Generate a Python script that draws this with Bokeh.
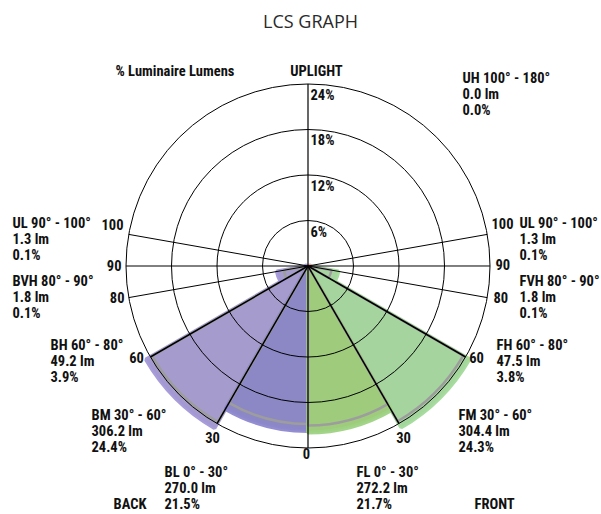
import numpy as np
from bokeh.plotting import figure
from bokeh.models import Range1d
from bokeh.core.properties import value
from bokeh.embed import file_html
from bokeh.resources import INLINE

# ---------------- data ----------------
back_zones = ["BL", "BM", "BH", "BVH"]
back_lm = [270.0, 306.2, 49.2, 1.8]
back_pct = [21.5, 24.4, 3.9, 0.1]
front_zones = ["FL", "FM", "FH", "FVH"]
front_lm = [272.2, 304.4, 47.5, 1.8]
front_pct = [21.7, 24.3, 3.8, 0.1]
zone_start = [0, 30, 60, 80]
zone_end = [30, 60, 80, 90]
ul_zone, ul_start, ul_end, ul_lm, ul_pct = "UL", 90, 100, 1.3, 0.1
uh_zone, uh_start, uh_end, uh_lm, uh_pct = "UH", 100, 180, 0.0, 0.0
ring_pct = [6, 12, 18, 24]
ring_labels = ["6%", "12%", "18%", "24%"]
spoke_deg = [30, 60, 80, 90, 100]
angle_labels = ["0", "30", "60", "80", "90", "100"]

# ---------------- styles ----------------
FONT = value("Roboto Condensed, DejaVu Sans Condensed, sans-serif")
FS = "14.5px"
back_fill = ["#8b88c5", "#a59bcc", "#a59bcc", "#a59bcc"]
back_halo = ["#8d88cd", "#a398d6", "#a398d6", "#a398d6"]
front_fill = ["#9fcc7c", "#a5d49f", "#a5d49f", "#a5d49f"]
front_halo = ["#9ed283", "#a2d99a", "#a2d99a", "#a2d99a"]
ul_fill = "#e79a9a"
GRAY = "#9d9d9d"

W, H = 601, 514
cx, cy = 307.5, -265.5
R = 182.0
scale = R / ring_pct[-1]

p = figure(width=W, height=H, output_backend="svg", toolbar_location=None,
           x_range=Range1d(0, W), y_range=Range1d(-H, 0),
           x_axis_location=None, y_axis_location=None, min_border=0,
           outline_line_color=None, background_fill_color="white",
           border_fill_color="white")
p.grid.visible = False


def to_rad(nadir_deg, side):
    # side=-1 back (left), +1 front (right)
    return np.deg2rad(270 + side * nadir_deg)


def draw_zone(start, end, pct, side, fill, halo):
    r = pct * scale
    a0, a1 = to_rad(start, side), to_rad(end, side)
    sa, ea = (a1, a0) if side < 0 else (a0, a1)
    p.wedge(x=cx, y=cy, radius=r + 2, start_angle=sa, end_angle=ea,
            fill_color=halo, line_color=halo, line_width=4, line_alpha=0.95)
    p.wedge(x=cx, y=cy, radius=r, start_angle=sa, end_angle=ea,
            fill_color=fill, line_color=None)
    if r > 8:
        p.wedge(x=cx, y=cy, radius=r - 5, start_angle=sa, end_angle=ea,
                fill_color=None, line_color=GRAY, line_width=2.5)


order = [1, 2, 3, 0]
for i in order:
    draw_zone(zone_start[i], zone_end[i], back_pct[i], -1, back_fill[i], back_halo[i])
for i in order:
    draw_zone(zone_start[i], zone_end[i], front_pct[i], 1, front_fill[i], front_halo[i])
draw_zone(ul_start, ul_end, ul_pct, -1, back_fill[1], back_halo[1])
draw_zone(ul_start, ul_end, ul_pct, 1, ul_fill, ul_fill)

# grid rings
p.circle(x=[cx] * len(ring_pct), y=[cy] * len(ring_pct),
         radius=[v * scale for v in ring_pct], fill_color=None,
         line_color="black", line_width=1)

# spokes
thin = [d for d in spoke_deg if d >= 80]
thick = [d for d in spoke_deg if d < 80]
for side in (-1, 1):
    p.ray(x=cx, y=cy, length=R, angle=[to_rad(d, side) for d in thin],
          line_color="black", line_width=1)
    p.ray(x=cx, y=cy, length=R, angle=[to_rad(d, side) for d in thick],
          line_color="black", line_width=1.5)
p.segment(x0=cx, y0=cy - R, x1=cx, y1=cy + R, line_color="black", line_width=1.2)


def txt(x, y, t, align="left", size=FS, font=FONT, style="bold", color="#111111"):
    p.text(x=x, y=y, text=t, text_align=align, text_baseline="middle",
           text_font=font, text_font_size=size, text_font_style=style,
           text_color=color)


# ring labels
ring_y = [-231.7, -186, -140, -95]
txt([310] * 4, ring_y, ring_labels)

# angle labels
txt([306], [-453], [angle_labels[0]], "center")
txt([212, 403], [-437, -437], [angle_labels[1]] * 2, "center")
txt([136, 476], [-357, -357], [angle_labels[2]] * 2, "center")
txt([124], [-297], [angle_labels[3]], "right")
txt([121], [-265], [angle_labels[4]], "right")
txt([123], [-224], [angle_labels[5]], "right")
txt([493], [-297], [angle_labels[3]], "left")
txt([495], [-264], [angle_labels[4]], "left")
txt([491], [-223], [angle_labels[5]], "left")


def zone_block(x, y0, name, a0, a1, lm, pct):
    lines = [f"{name} {a0}\u00b0 - {a1}\u00b0", f"{lm:.1f} lm", f"{pct:.1f}%"]
    txt([x] * 3, [-y0, -(y0 + 16), -(y0 + 32)], lines)


zone_block(12, 223, ul_zone, ul_start, ul_end, ul_lm, ul_pct)
zone_block(12, 281, back_zones[3], zone_start[3], zone_end[3], back_lm[3], back_pct[3])
zone_block(50, 345, back_zones[2], zone_start[2], zone_end[2], back_lm[2], back_pct[2])
zone_block(91, 415, back_zones[1], zone_start[1], zone_end[1], back_lm[1], back_pct[1])
zone_block(164, 472, back_zones[0], zone_start[0], zone_end[0], back_lm[0], back_pct[0])
zone_block(356, 472, front_zones[0], zone_start[0], zone_end[0], front_lm[0], front_pct[0])
zone_block(458, 415, front_zones[1], zone_start[1], zone_end[1], front_lm[1], front_pct[1])
zone_block(496, 345, front_zones[2], zone_start[2], zone_end[2], front_lm[2], front_pct[2])
zone_block(519, 281, front_zones[3], zone_start[3], zone_end[3], front_lm[3], front_pct[3])
zone_block(519, 223, ul_zone, ul_start, ul_end, ul_lm, ul_pct)
zone_block(462, 78, uh_zone, uh_start, uh_end, uh_lm, uh_pct)

txt([113], [-504], ["BACK"])
txt([474], [-504], ["FRONT"])
txt([115], [-71], ["% Luminaire Lumens"])
txt([316], [-71], ["UPLIGHT"], "center")
txt([310], [-20], ["LCS GRAPH"], "center", size="18px", font=value("Open Sans"),
    style="normal", color="#2a2a2a")

open("out.html", "w").write(file_html(p, INLINE))
